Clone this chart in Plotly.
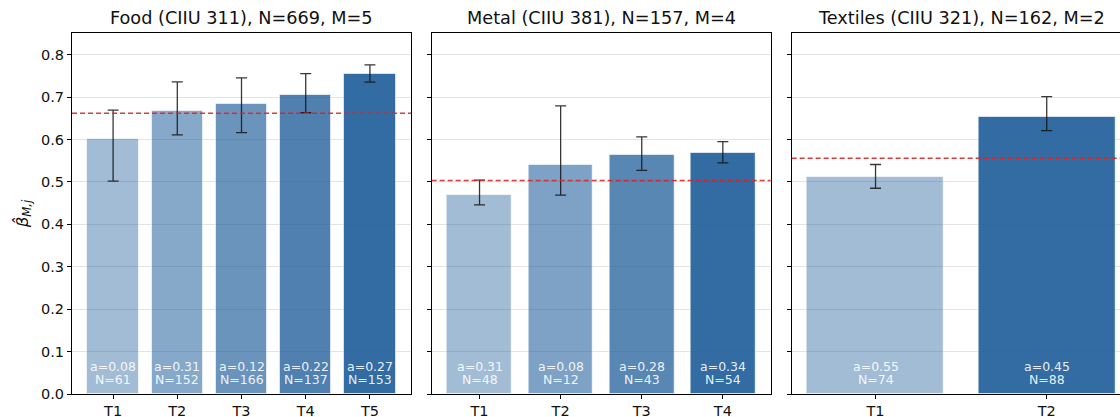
import plotly.graph_objects as go

# ---- data ----
food_labels = ["T1", "T2", "T3", "T4", "T5"]
food_beta = [0.601, 0.667, 0.684, 0.705, 0.755]
food_low = [0.502, 0.611, 0.616, 0.663, 0.735]
food_high = [0.669, 0.736, 0.745, 0.755, 0.776]
food_a = [0.08, 0.31, 0.12, 0.22, 0.27]
food_n = [61, 152, 166, 137, 153]
food_mean = 0.662

metal_labels = ["T1", "T2", "T3", "T4"]
metal_beta = [0.469, 0.540, 0.564, 0.568]
metal_low = [0.446, 0.469, 0.527, 0.545]
metal_high = [0.504, 0.679, 0.606, 0.595]
metal_a = [0.31, 0.08, 0.28, 0.34]
metal_n = [48, 12, 43, 54]
metal_mean = 0.503

tex_labels = ["T1", "T2"]
tex_beta = [0.512, 0.652]
tex_low = [0.485, 0.621]
tex_high = [0.541, 0.701]
tex_a = [0.55, 0.45]
tex_n = [74, 88]
tex_mean = 0.556

titles = ["Food (CIIU 311), N=669, M=5",
          "Metal (CIIU 381), N=157, M=4",
          "Textiles (CIIU 321), N=162, M=2"]

panels = [
    (food_labels, food_beta, food_low, food_high, food_a, food_n, food_mean),
    (metal_labels, metal_beta, metal_low, metal_high, metal_a, metal_n, metal_mean),
    (tex_labels, tex_beta, tex_low, tex_high, tex_a, tex_n, tex_mean),
]

# ---- layout geometry ----
W, H = 1120, 417
ML, MR, MT, MB = 72, 0, 33, 23
domains = [[0.0, 0.3235], [0.3432, 0.6667], [0.6867, 1.0]]
xranges = [[-0.64, 4.64], [-0.59, 3.59], [-0.49, 1.428]]
YMAX = 0.851

fig = go.Figure()
annotations = []
shapes = []
FONT = "DejaVu Sans"

for p, (labels, beta, low, high, a_vals, n_vals, mean) in enumerate(panels):
    xa = "x" if p == 0 else f"x{p+1}"
    ya = "y" if p == 0 else f"y{p+1}"
    m = len(labels)
    xs = list(range(m))
    colors = []
    for i in range(m):
        alpha = 0.41 + (0.9 - 0.41) * (i / (m - 1) if m > 1 else 0)
        colors.append(f"rgba(28,92,153,{alpha:.3f})")
    fig.add_trace(go.Bar(
        x=xs, y=beta, width=0.8, xaxis=xa, yaxis=ya,
        marker=dict(color=colors, line=dict(color="rgba(255,255,255,0.6)", width=1)),
        error_y=dict(type="data", symmetric=False,
                     array=[h - b for h, b in zip(high, beta)],
                     arrayminus=[b - l for b, l in zip(beta, low)],
                     color="rgba(20,20,20,0.85)", thickness=1.3, width=5.5),
        showlegend=False, hoverinfo="skip",
    ))
    for i in range(m):
        annotations.append(dict(x=xs[i], y=0.064, xref=xa, yref=ya, text=f"a={a_vals[i]:.2f}",
                                showarrow=False, yanchor="middle", xanchor="center",
                                font=dict(family=FONT, size=12.5, color="rgba(255,255,255,0.9)")))
        annotations.append(dict(x=xs[i], y=0.034, xref=xa, yref=ya, text=f"N={n_vals[i]}",
                                showarrow=False, yanchor="middle", xanchor="center",
                                font=dict(family=FONT, size=12.5, color="rgba(255,255,255,0.9)")))
    shapes.append(dict(type="line", xref=f"{xa} domain", yref=ya, x0=0, x1=1, y0=mean, y1=mean,
                       line=dict(color="rgba(214,39,40,0.9)", width=1.5, dash="5px,3px")))
    xcenter = (domains[p][0] + domains[p][1]) / 2
    if p == 2:
        xcenter = domains[p][0] + (domains[p][1] - domains[p][0]) * (1.98 / 2) / (xranges[p][1] - xranges[p][0])
    annotations.append(dict(x=xcenter, y=1, xref="paper", yref="paper", text=titles[p],
                            showarrow=False, yanchor="middle", xanchor="center", yshift=15,
                            font=dict(family=FONT, size=17.7, color="#111")))

    axis_x = dict(domain=domains[p], range=xranges[p], tickmode="array", tickvals=xs, ticktext=labels,
                  showline=True, linecolor="black", linewidth=1, mirror=True,
                  ticks="outside", ticklen=4, tickwidth=1, tickcolor="black",
                  showgrid=False, zeroline=False, automargin=False,
                  tickfont=dict(family=FONT, size=14.5, color="#111"), anchor=ya)
    axis_y = dict(range=[0, YMAX], tickmode="array", tickvals=[0, 0.1, 0.2, 0.3, 0.4, 0.5, 0.6, 0.7, 0.8],
                  ticktext=["0.0", "0.1", "0.2", "0.3", "0.4", "0.5", "0.6", "0.7", "0.8"],
                  showticklabels=(p == 0), showline=True, linecolor="black", linewidth=1,
                  mirror=(p != 2), ticks="outside", ticklen=4, tickwidth=1, tickcolor="black",
                  showgrid=True, gridcolor="rgba(200,200,200,0.5)", gridwidth=1, zeroline=False,
                  automargin=False, tickfont=dict(family=FONT, size=14.5, color="#111"), anchor=xa)
    if p == 0:
        axis_y["title"] = dict(text="<i>β̂</i><sub><i>M,j</i></sub>", standoff=8,
                               font=dict(family=FONT, size=16.5, color="#111"))
    fig.layout[("xaxis" if p == 0 else f"xaxis{p+1}")] = axis_x
    fig.layout[("yaxis" if p == 0 else f"yaxis{p+1}")] = axis_y

fig.update_layout(
    width=W, height=H, margin=dict(l=ML, r=MR, t=MT, b=MB),
    paper_bgcolor="white", plot_bgcolor="white",
    annotations=annotations, shapes=shapes, bargap=0,
    font=dict(family=FONT, color="#111"),
)

fig.write_html("out.html", config={"displayModeBar": False},
               post_script="document.body.style.margin='0px';document.body.style.overflow='hidden';")
